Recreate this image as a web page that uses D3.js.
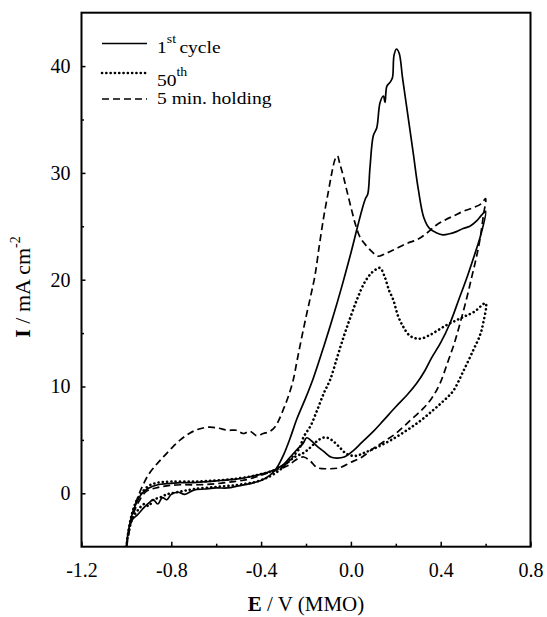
<!DOCTYPE html>
<html>
<head>
<meta charset="utf-8">
<script src="https://cdn.jsdelivr.net/npm/d3@7/dist/d3.min.js"></script>
<style>
  body { margin: 0; background: #fff; }
  svg text { font-family: "Liberation Serif", "DejaVu Serif", "Times New Roman", serif; fill: #000; }
</style>
</head>
<body>
<div id="chart"></div>
<script>
// E (V vs MMO), I (mA cm^-2); anodic sweep then cathodic sweep
const cycle1 = [
  [-1.0,-5.0],[-0.99,-3.4],[-0.975,-2.5],[-0.95,-2.0],[-0.92,-1.3],[-0.9,-0.9],[-0.88,-0.6],[-0.86,-1.0],
  [-0.84,-0.4],[-0.82,-0.6],[-0.8,-0.1],[-0.77,0.1],[-0.74,-0.1],[-0.7,0.3],[-0.65,0.4],[-0.6,0.5],
  [-0.55,0.5],[-0.5,0.7],[-0.45,0.9],[-0.4,1.2],[-0.36,1.7],[-0.33,2.4],[-0.3,3.6],[-0.27,5.2],
  [-0.24,7.0],[-0.2,9.0],[-0.167,10.8],[-0.12,13.8],[-0.08,16.5],[-0.04,19.4],[0.0,22.5],[0.03,25.0],
  [0.05,26.6],[0.065,27.6],[0.075,28.0],[0.085,30.5],[0.1,33.5],[0.115,34.2],[0.13,36.6],[0.145,37.2],
  [0.152,36.6],[0.16,38.1],[0.175,38.5],[0.185,38.9],[0.192,41.0],[0.203,41.6],[0.215,41.2],[0.23,38.9],
  [0.253,35.5],[0.278,31.8],[0.3,28.5],[0.325,25.8],[0.35,24.8],[0.38,24.4],[0.41,24.2],[0.44,24.3],
  [0.47,24.5],[0.5,24.8],[0.53,25.0],[0.56,25.5],[0.58,26.0],[0.6,26.4],
  [0.58,24.3],[0.558,22.8],[0.52,20.4],[0.48,18.1],[0.441,15.9],[0.4,14.1],[0.36,12.7],[0.33,11.5],
  [0.293,10.3],[0.25,9.2],[0.2,8.1],[0.144,6.8],[0.1,5.8],[0.05,4.8],[0.011,4.0],[-0.03,3.4],
  [-0.063,3.3],[-0.09,3.4],[-0.12,3.9],[-0.15,4.4],[-0.175,4.9],[-0.197,5.2],[-0.212,4.7],[-0.24,4.1],
  [-0.27,3.4],[-0.3,2.7],[-0.34,2.2],[-0.4,1.8],[-0.46,1.5],[-0.52,1.3],[-0.58,1.2],[-0.64,1.1],
  [-0.7,1.0],[-0.76,1.0],[-0.82,0.9],[-0.86,0.8],[-0.9,0.5],[-0.93,0.0],[-0.955,-0.9],[-0.975,-2.0],
  [-0.99,-3.4],[-1.0,-5.0]
];

const cycle50 = [
  [-1.0,-5.0],[-0.99,-3.6],[-0.97,-2.2],[-0.95,-1.6],[-0.92,-1.0],[-0.9,-1.2],[-0.88,-0.6],[-0.85,-0.4],
  [-0.82,-0.1],[-0.8,0.0],[-0.75,0.2],[-0.7,0.4],[-0.6,0.6],[-0.5,0.8],[-0.42,1.1],[-0.36,1.6],
  [-0.31,2.3],[-0.27,3.2],[-0.23,4.2],[-0.21,5.3],[-0.18,6.3],[-0.15,7.8],[-0.12,9.4],[-0.093,10.6],
  [-0.06,12.8],[-0.03,14.8],[0.0,16.6],[0.03,18.3],[0.06,19.7],[0.09,20.6],[0.115,21.0],[0.13,21.1],
  [0.15,20.3],[0.17,19.0],[0.189,18.1],[0.21,16.6],[0.233,15.6],[0.26,14.8],[0.29,14.5],[0.315,14.5],
  [0.35,14.8],[0.39,15.3],[0.43,15.8],[0.47,16.2],[0.51,16.6],[0.55,17.0],[0.6,17.8],
  [0.59,16.0],[0.575,14.8],[0.545,13.4],[0.5,11.4],[0.456,9.6],[0.41,8.6],[0.367,7.8],[0.31,6.8],
  [0.249,5.9],[0.18,5.0],[0.115,4.3],[0.06,3.8],[0.02,3.5],[-0.02,3.7],[-0.05,4.3],[-0.08,4.9],
  [-0.105,5.2],[-0.125,5.2],[-0.15,4.9],[-0.18,4.3],[-0.21,3.8],[-0.25,3.4],[-0.3,2.6],[-0.35,2.1],
  [-0.42,1.7],[-0.5,1.4],[-0.6,1.2],[-0.7,1.1],[-0.8,1.1],[-0.86,1.0],[-0.9,0.7],[-0.93,0.1],
  [-0.955,-0.7],[-0.975,-1.9],[-0.99,-3.4],[-1.0,-5.0]
];

const holding = [
  [-1.0,-5.0],[-0.99,-3.9],[-0.975,-2.2],[-0.955,-0.7],[-0.93,0.6],[-0.9,1.8],[-0.87,2.6],[-0.84,3.3],
  [-0.8,4.2],[-0.76,5.0],[-0.72,5.6],[-0.68,6.0],[-0.63,6.2],[-0.59,6.1],[-0.55,5.9],[-0.51,5.9],
  [-0.48,5.6],[-0.45,5.8],[-0.42,5.4],[-0.39,5.6],[-0.36,5.8],[-0.335,6.3],[-0.32,6.9],[-0.3,7.9],
  [-0.28,9.0],[-0.257,10.6],[-0.24,12.4],[-0.22,14.5],[-0.2,16.5],[-0.18,18.4],[-0.16,20.4],[-0.14,23.3],
  [-0.12,26.0],[-0.1,28.3],[-0.085,30.0],[-0.07,31.3],[-0.06,31.6],[-0.05,30.9],[-0.035,29.8],[-0.02,28.5],
  [0.0,26.8],[0.02,25.2],[0.04,24.0],[0.06,23.4],[0.09,22.7],[0.122,22.2],[0.16,22.5],[0.2,22.9],
  [0.25,23.4],[0.3,23.8],[0.34,24.4],[0.38,25.1],[0.42,25.6],[0.46,26.0],[0.5,26.4],[0.54,26.7],
  [0.58,27.1],[0.6,27.6],
  [0.59,26.0],[0.575,23.8],[0.56,22.2],[0.54,20.4],[0.515,18.2],[0.486,15.9],[0.46,14.0],[0.43,12.2],
  [0.397,10.3],[0.36,8.9],[0.32,7.9],[0.263,6.8],[0.2,5.6],[0.144,4.8],[0.1,4.2],[0.05,3.4],
  [0.0,2.9],[-0.05,2.4],[-0.1,2.3],[-0.15,2.4],[-0.18,3.0],[-0.21,3.4],[-0.24,3.2],[-0.28,2.6],
  [-0.34,2.1],[-0.4,1.7],[-0.46,1.3],[-0.52,1.1],[-0.6,0.9],[-0.68,0.8],[-0.76,0.8],[-0.82,0.7],
  [-0.87,0.5],[-0.91,0.2],[-0.94,-0.6],[-0.965,-1.7],[-0.985,-3.2],[-1.0,-5.0]
];

const xMajor = [-1.2, -0.8, -0.4, 0.0, 0.4, 0.8];
const xMinor = [-1.0, -0.6, -0.2, 0.2, 0.6];
const yMajor = [0, 10, 20, 30, 40];
const yMinor = [5, 15, 25, 35];

const series = [
  { name: "1st", data: cycle1, dash: null, width: 1.7 },
  { name: "50th", data: cycle50, dash: "0.1 4.2", width: 2.6 },
  { name: "hold", data: holding, dash: "7 4", width: 1.7 }
];

const FONT = "'Liberation Serif', 'DejaVu Serif', 'Times New Roman', serif";

const W = 547, H = 617;
const margin = { top: 12.7, right: 16.5, bottom: 70.3, left: 81.5 };
const width = W - margin.left - margin.right;
const height = H - margin.top - margin.bottom;

const x = d3.scaleLinear().domain([-1.2, 0.8]).range([0, width]);
const y = d3.scaleLinear().domain([-5, 45]).range([height, 0]);

const svg = d3.select("#chart").append("svg")
  .attr("width", W)
  .attr("height", H);

const g = svg.append("g")
  .attr("transform", "translate(" + margin.left + "," + margin.top + ")");

g.append("clipPath").attr("id", "clip")
  .append("rect").attr("width", width).attr("height", height);

const line = d3.line()
  .x(d => x(d[0]))
  .y(d => y(d[1]))
  .curve(d3.curveCatmullRom.alpha(0.5));

const isDot = d => d.dash && d.dash.startsWith("0.1");

g.append("g").attr("clip-path", "url(#clip)")
  .selectAll("path")
  .data(series)
  .join("path")
  .attr("fill", "none")
  .attr("stroke", "#000")
  .attr("stroke-width", d => d.width)
  .attr("stroke-linecap", d => isDot(d) ? "round" : "butt")
  .attr("stroke-dasharray", d => d.dash)
  .attr("d", d => line(d.data));

// ticks point inward
g.append("g").attr("transform", "translate(0," + height + ")")
  .call(d3.axisBottom(x).tickValues(xMajor).tickSize(-5).tickPadding(16)
    .tickFormat(d => d.toFixed(1)));
g.append("g").attr("transform", "translate(0," + height + ")")
  .call(d3.axisBottom(x).tickValues(xMinor).tickSize(-3).tickFormat(""));

g.append("g")
  .call(d3.axisLeft(y).tickValues(yMajor).tickSize(-4).tickPadding(11));
g.append("g").call(d3.axisLeft(y).tickValues(yMinor).tickSize(-2.5).tickFormat(""));

g.selectAll(".domain").remove();
g.selectAll(".tick line").attr("stroke", "#000").attr("stroke-width", 1.5);
g.selectAll(".tick text")
  .attr("font-family", null)
  .style("font-family", FONT)
  .style("font-size", "20px")
  .attr("fill", "#000");

// frame
g.append("rect")
  .attr("width", width)
  .attr("height", height)
  .attr("fill", "none")
  .attr("stroke", "#000")
  .attr("stroke-width", 2);

// axis titles
const xt = svg.append("text")
  .attr("x", margin.left + width / 2)
  .attr("y", 611)
  .attr("text-anchor", "middle")
  .style("font-family", FONT)
  .style("font-size", "21px");
xt.append("tspan").attr("font-weight", "bold").text("E");
xt.append("tspan").text(" / V (MMO)");

const yt = svg.append("text")
  .attr("transform", "translate(30,287) rotate(-90)")
  .attr("text-anchor", "middle")
  .style("font-family", FONT)
  .style("font-size", "22px");
yt.append("tspan").attr("font-weight", "bold").text("I");
yt.append("tspan").text(" / mA cm");
yt.append("tspan").attr("dy", -10).style("font-size", "14px").text("-2");

// legend
const legendRows = [
  { s: series[0], ly: 43.5, ty: 53, main: "1", sup: "st", after: "cycle" },
  { s: series[1], ly: 73, ty: 85.5, main: "50", sup: "th", after: "" },
  { s: series[2], ly: 99, ty: 104, main: "5 min. holding", sup: "", after: "" }
];
const legend = svg.append("g");
legendRows.forEach(r => {
  legend.append("line")
    .attr("x1", 102).attr("x2", 147)
    .attr("y1", r.ly).attr("y2", r.ly)
    .attr("stroke", "#000")
    .attr("stroke-width", r.s.width)
    .attr("stroke-linecap", isDot(r.s) ? "round" : "butt")
    .attr("stroke-dasharray", r.s.dash);
  const t = legend.append("text")
    .attr("transform", "translate(157," + r.ty + ") scale(1.15,1)")
    .style("font-family", FONT)
    .style("font-size", "17px");
  t.append("tspan").text(r.main);
  if (r.sup) {
    t.append("tspan").attr("dy", -10).style("font-size", "12px").text(r.sup);
  }
  if (r.after) {
    t.append("tspan").attr("dy", 10).attr("dx", 3).text(r.after);
  }
});
</script>
</body>
</html>
